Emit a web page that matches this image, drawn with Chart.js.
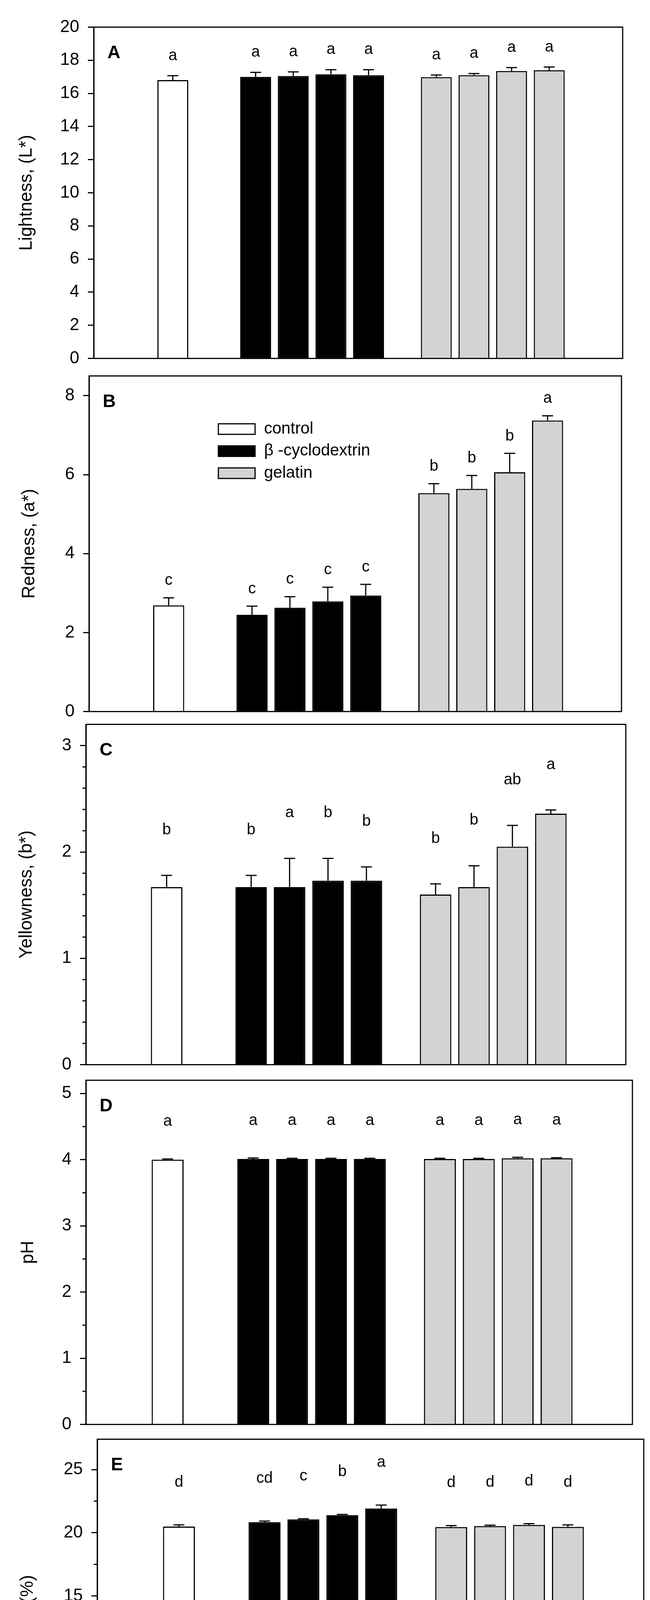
<!DOCTYPE html>
<html>
<head>
<meta charset="utf-8">
<title>Colour, pH and SSC</title>
<script src="https://cdn.jsdelivr.net/npm/chart.js@4.4.1/dist/chart.umd.min.js"></script>
<style>
  html, body { margin: 0; padding: 0; background: #fff; }
  #page { position: relative; width: 1664px; height: 4779px; overflow: hidden; background: #fff; }
  .panel { position: absolute; left: 0; width: 1664px; }
</style>
</head>
<body>
<div id="page">
  <div class="panel" id="wrapA"><canvas id="chartA"></canvas></div>
  <div class="panel" id="wrapB"><canvas id="chartB"></canvas></div>
  <div class="panel" id="wrapC"><canvas id="chartC"></canvas></div>
  <div class="panel" id="wrapD"><canvas id="chartD"></canvas></div>
  <div class="panel" id="wrapE"><canvas id="chartE"></canvas></div>
</div>
<script>
var FONT = '"Liberation Sans", Arial, Helvetica, sans-serif';
Chart.defaults.font.family = FONT;
Chart.defaults.color = '#000';

// treatments
var groupNames = ['Control', 'β-cyclodextrin (%)', 'Gelatin (g/L)'];
var legendNames = ['control', 'β -cyclodextrin', 'gelatin'];
var groupColors = ['#ffffff', '#000000', '#d3d3d3'];
var doseLabels = ['0', '0.5', '1.0', '1.5', '2.0', '0.1', '0.2', '0.3', '0.4'];
var groupOf = [0, 1, 1, 1, 1, 2, 2, 2, 2];

// A - lightness
var lightness = [16.8, 17.0, 17.05, 17.15, 17.1, 16.98, 17.1, 17.35, 17.4];
var lightnessSE = [0.27, 0.27, 0.25, 0.28, 0.33, 0.13, 0.1, 0.21, 0.19];
var lightnessSig = ['a', 'a', 'a', 'a', 'a', 'a', 'a', 'a', 'a'];

// B - redness
var redness = [2.69, 2.45, 2.63, 2.79, 2.94, 5.53, 5.64, 6.06, 7.37];
var rednessSE = [0.19, 0.22, 0.28, 0.36, 0.28, 0.24, 0.34, 0.48, 0.12];
var rednessSig = ['c', 'c', 'c', 'c', 'c', 'b', 'b', 'b', 'a'];

// C - yellowness
var yellowness = [1.67, 1.67, 1.67, 1.73, 1.73, 1.6, 1.67, 2.05, 2.36];
var yellownessSE = [0.11, 0.11, 0.27, 0.21, 0.13, 0.1, 0.2, 0.2, 0.035];
var yellownessSig = ['b', 'b', 'a', 'b', 'b', 'b', 'b', 'ab', 'a'];

// D - pH
var ph = [4.0, 4.01, 4.01, 4.01, 4.01, 4.01, 4.01, 4.02, 4.02];
var phSE = [0.01, 0.015, 0.01, 0.01, 0.01, 0.01, 0.01, 0.015, 0.01];
var phSig = ['a', 'a', 'a', 'a', 'a', 'a', 'a', 'a', 'a'];

// E - soluble solids
var ssc = [20.49, 20.84, 21.06, 21.39, 21.92, 20.45, 20.53, 20.62, 20.47];
var sscSE = [0.13, 0.08, 0.05, 0.06, 0.27, 0.12, 0.07, 0.1, 0.15];
var sscSig = ['d', 'cd', 'c', 'b', 'a', 'd', 'd', 'd', 'd'];

// layout: where each group starts on the x axis, and the axis range
var groupStart = [0, 2.2, 7.0];
var xMin = -1.32, xMax = 11.17;
// dose labels sit a little wider apart than the bars
var labelSpread = 1.1, labelShift = 0.2;

var xPos = [];
var tickPos = [];
(function () {
    var count = [0, 0, 0];
    groupOf.forEach(function (g) {
        xPos.push(groupStart[g] + count[g]);
        count[g]++;
    });
    var seen = [0, 0, 0];
    groupOf.forEach(function (g) {
        var n = count[g];
        var centre = groupStart[g] + (n - 1) / 2;
        var j = seen[g]++;
        tickPos.push(n > 1 ? centre + labelShift + (j - (n - 1) / 2) * labelSpread : centre);
    });
})();

var panels = [
    { id: 'A', values: lightness, se: lightnessSE, sig: lightnessSig, title: 'Lightness, (L*)',
      max: 20, step: 2, minor: 0, box: [240, 66, 1594, 921], titleX: 68, sigGap: 40 },
    { id: 'B', values: redness, se: rednessSE, sig: rednessSig, title: 'Redness, (a*)',
      max: 8.5, step: 2, minor: 0, box: [228, 959, 1591, 1825], titleX: 75, sigGap: 33, legend: true },
    { id: 'C', values: yellowness, se: yellownessSE, sig: yellownessSig, title: 'Yellowness, (b*)',
      max: 3.2, step: 1, minor: 0.2, box: [220, 1851, 1602, 2729], titleX: 68, sigGap: 105 },
    { id: 'D', values: ph, se: phSE, sig: phSig, title: 'pH',
      max: 5.2, step: 1, minor: 0.5, box: [220, 2762, 1619, 3650], titleX: 72, sigGap: 85 },
    { id: 'E', values: ssc, se: sscSE, sig: sscSig, title: 'SSC, (%)',
      max: 27.4, step: 5, minor: 2.5, box: [249, 3681, 1648, 4571], titleX: 71, sigGap: 98, last: true }
];

function buildDatasets(p) {
    return groupNames.map(function (name, g) {
        var ds = { label: legendNames[g], data: [], se: [], sig: [],
                   backgroundColor: groupColors[g], borderColor: '#000', borderWidth: 3,
                   grouped: false, barPercentage: 0.82, categoryPercentage: 1 };
        groupOf.forEach(function (gg, i) {
            if (gg !== g) return;
            ds.data.push({ x: xPos[i], y: p.values[i] });
            ds.se.push(p.se[i]);
            ds.sig.push(p.sig[i]);
        });
        return ds;
    });
}

function decorPlugin(p) {
    return {
        id: 'decor' + p.id,
        afterDatasetsDraw: function (chart) {
            var ctx = chart.ctx, a = chart.chartArea, ys = chart.scales.y;
            ctx.save();
            ctx.strokeStyle = '#000';
            ctx.fillStyle = '#000';
            ctx.lineWidth = 3;

            // error bars and significance letters
            ctx.font = '40px ' + FONT;
            ctx.textAlign = 'center';
            ctx.textBaseline = 'alphabetic';
            chart.data.datasets.forEach(function (ds, di) {
                chart.getDatasetMeta(di).data.forEach(function (bar, j) {
                    var top = ys.getPixelForValue(ds.data[j].y + ds.se[j]);
                    ctx.beginPath();
                    ctx.moveTo(bar.x, bar.y);
                    ctx.lineTo(bar.x, top);
                    ctx.moveTo(bar.x - 14, top);
                    ctx.lineTo(bar.x + 14, top);
                    ctx.stroke();
                    ctx.fillText(ds.sig[j], bar.x, top - p.sigGap);
                });
            });

            // frame
            ctx.strokeRect(a.left, a.top, a.right - a.left, a.bottom - a.top);

            // minor ticks
            if (p.minor) {
                for (var v = p.minor; v < p.max; v += p.minor) {
                    var r = v / p.step;
                    if (Math.abs(r - Math.round(r)) < 1e-6) continue;
                    var py = ys.getPixelForValue(v);
                    ctx.beginPath();
                    ctx.moveTo(a.left - 9, py);
                    ctx.lineTo(a.left, py);
                    ctx.stroke();
                }
            }

            // panel letter
            ctx.font = 'bold 46px ' + FONT;
            ctx.textAlign = 'left';
            ctx.fillText(p.id, a.left + 35, a.top + 80);

            // legend
            if (p.legend) {
                ctx.font = '42px ' + FONT;
                ctx.textBaseline = 'middle';
                chart.data.datasets.forEach(function (ds, di) {
                    var bx = a.left + 331, by = a.top + 136 + di * 56.5;
                    ctx.fillStyle = ds.backgroundColor;
                    ctx.fillRect(bx, by - 13.5, 94, 27);
                    ctx.strokeRect(bx, by - 13.5, 94, 27);
                    ctx.fillStyle = '#000';
                    ctx.fillText(ds.label, bx + 117, by);
                });
            }

            // treatment names under the bottom axis
            if (p.last) {
                ctx.font = '42px ' + FONT;
                ctx.textAlign = 'center';
                ctx.textBaseline = 'alphabetic';
                chart.data.datasets.forEach(function (ds, di) {
                    var bars = chart.getDatasetMeta(di).data;
                    var cx = (bars[0].x + bars[bars.length - 1].x) / 2;
                    ctx.fillText(groupNames[di], cx, a.bottom + 173);
                });
            }
            ctx.restore();
        }
    };
}

function makeChart(p) {
    var L = p.box[0], T = p.box[1], R = p.box[2], B = p.box[3];
    var padTop = 45;
    var padBottom = p.last ? 0 : 45;
    var xAxisH = p.last ? (4779 - B) : 0;
    var wrap = document.getElementById('wrap' + p.id);
    wrap.style.top = (T - padTop) + 'px';
    wrap.style.height = (B - T + padTop + padBottom + xAxisH) + 'px';

    new Chart(document.getElementById('chart' + p.id), {
        type: 'bar',
        data: { datasets: buildDatasets(p) },
        options: {
            responsive: true,
            maintainAspectRatio: false,
            animation: false,
            layout: { padding: { left: 0, right: 1664 - R, top: padTop, bottom: padBottom } },
            plugins: { legend: { display: false }, tooltip: { enabled: false } },
            scales: {
                x: {
                    type: 'linear',
                    min: xMin,
                    max: xMax,
                    display: !!p.last,
                    grid: { display: false, drawTicks: false },
                    border: { display: true, width: 3, color: '#000' },
                    afterBuildTicks: function (s) {
                        s.ticks = tickPos.map(function (v) { return { value: v }; });
                    },
                    afterFit: function (s) { s.height = xAxisH; },
                    ticks: {
                        autoSkip: false,
                        maxRotation: 0,
                        padding: 46,
                        font: { size: 40 },
                        callback: function (v, i) { return doseLabels[i]; }
                    }
                },
                y: {
                    min: 0,
                    max: p.max,
                    afterFit: function (s) { s.width = L; },
                    ticks: { stepSize: p.step, includeBounds: false, padding: 22, font: { size: 44 } },
                    grid: { drawOnChartArea: false, tickLength: 15, lineWidth: 3, color: '#000' },
                    border: { display: true, width: 3, color: '#000' },
                    title: {
                        display: true,
                        text: p.title,
                        font: { size: 46, lineHeight: 1 },
                        padding: { top: p.titleX - 23, bottom: 0 }
                    }
                }
            }
        },
        plugins: [decorPlugin(p)]
    });
}

panels.forEach(makeChart);
</script>
</body>
</html>
